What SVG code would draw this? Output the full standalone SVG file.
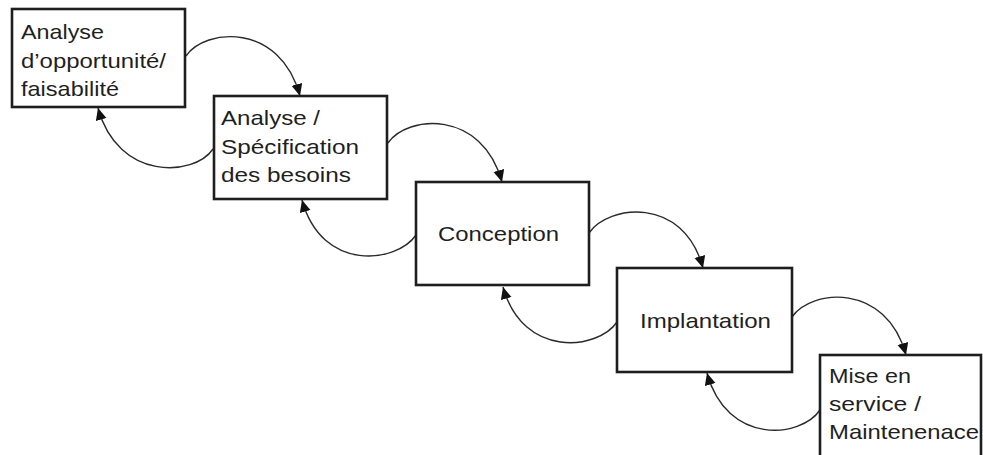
<svg xmlns="http://www.w3.org/2000/svg" width="983" height="455" viewBox="0 0 983 455">
  <style>
    .box { fill: #ffffff; stroke: #1e1e1e; stroke-width: 2.6; }
    .lbl { font-family: "Liberation Sans", Arial, sans-serif; font-size: 21px; fill: #1f1f1f; }
    .arc { fill: none; stroke: #2a2a2a; stroke-width: 1.4; marker-end: url(#head); }
  </style>
  <defs>
    <marker id="head" markerUnits="userSpaceOnUse" markerWidth="13" markerHeight="12" refX="12" refY="5.5" orient="auto">
      <path d="M0,0 L12,5.5 L0,11 z" fill="#111111"/>
    </marker>
  </defs>
  <rect width="983" height="455" fill="#ffffff"/>

  <!-- curved transitions: forward over the top, feedback underneath -->
  <g id="connectors">
    <path class="arc" d="M186,56 C205,28 280,22 300,96"/>
    <path class="arc" d="M213,149 C194,177 118,181 98,108"/>

    <path class="arc" d="M388,143 C407,115 482,109 502,182"/>
    <path class="arc" d="M416,235 C397,263 322,273 302,200"/>

    <path class="arc" d="M589,233 C608,205 683,195 703,268"/>
    <path class="arc" d="M617,322 C598,350 523,359 503,287"/>

    <path class="arc" d="M792,317 C811,289 886,282 906,355"/>
    <path class="arc" d="M820,410 C801,438 727,446 707,373"/>
  </g>

  <g id="opportunite">
    <rect class="box" x="12" y="9" width="173" height="98"/>
    <text class="lbl" x="21" y="39" textLength="83" lengthAdjust="spacingAndGlyphs">Analyse</text>
    <text class="lbl" x="21" y="67.5" textLength="145" lengthAdjust="spacingAndGlyphs">d’opportunité/</text>
    <text class="lbl" x="21" y="96" textLength="98" lengthAdjust="spacingAndGlyphs">faisabilité</text>
  </g>

  <g id="specification">
    <rect class="box" x="214" y="96" width="173" height="103"/>
    <text class="lbl" x="221" y="125" textLength="99" lengthAdjust="spacingAndGlyphs">Analyse /</text>
    <text class="lbl" x="221" y="153.5" textLength="138" lengthAdjust="spacingAndGlyphs">Spécification</text>
    <text class="lbl" x="221" y="182" textLength="130" lengthAdjust="spacingAndGlyphs">des besoins</text>
  </g>

  <g id="conception">
    <rect class="box" x="416" y="182" width="173" height="103"/>
    <text class="lbl" x="438" y="240.7" textLength="121" lengthAdjust="spacingAndGlyphs">Conception</text>
  </g>

  <g id="implantation">
    <rect class="box" x="617" y="268" width="175" height="104"/>
    <text class="lbl" x="640" y="327.7" textLength="131" lengthAdjust="spacingAndGlyphs">Implantation</text>
  </g>

  <g id="maintenance">
    <rect class="box" x="820" y="355" width="161" height="115"/>
    <text class="lbl" x="829" y="382.7" textLength="82" lengthAdjust="spacingAndGlyphs">Mise en</text>
    <text class="lbl" x="829" y="411" textLength="92" lengthAdjust="spacingAndGlyphs">service /</text>
    <text class="lbl" x="829" y="439.3" textLength="150" lengthAdjust="spacingAndGlyphs">Maintenenace</text>
  </g>
</svg>
